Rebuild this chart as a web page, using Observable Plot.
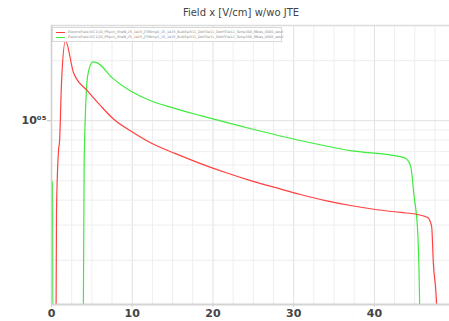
<!DOCTYPE html>
<html><head><meta charset="utf-8">
<script src="https://cdn.jsdelivr.net/npm/d3@7"></script>
<script src="https://cdn.jsdelivr.net/npm/@observablehq/plot@0.6"></script>
<style>
body{margin:0;background:#fff;font-family:"DejaVu Sans",sans-serif;}
#wrap{position:relative;width:449px;height:321px;overflow:hidden;}
#title{position:absolute;left:0;top:7px;width:482px;text-align:center;font-size:10px;color:#444;font-weight:500;}
#legend{position:absolute;left:52px;top:27px;width:228px;height:13px;border:1px solid #d8d8d8;background:#fff;font-size:3.4px;color:#888;}
.row{position:absolute;left:3px;height:4px;white-space:nowrap;line-height:4px;}
.sw{display:inline-block;width:9px;height:0;border-top:1.2px solid;vertical-align:middle;margin-right:3px;}
</style></head><body>
<div id="wrap"><div id="chart"></div>
<div id="title">Field x [V/cm] w/wo JTE</div>
<div id="legend"></div></div>
<script>
const seriesNames = [
  "ElectricField-X(C1)(D_Pflpin)_ShaN_25_1a15_JTENmp0_15_1a15_BulkEpiS11_DotTile11_DotHTile12_Temp300_RBias_0000_des3",
  "ElectricField-X(C1)(D_Pflpin)_ShaN_25_1a15_JTENmp1_15_1a15_BulkEpiS11_DotTile11_DotHTile12_Temp300_RBias_0000_des3"
];
const seriesColors = ["#ff4040", "#3dec3d"];
const redX = [0.55, 0.62, 0.87, 1.0, 1.24, 1.73, 2.73, 4.46, 6.07, 7.68, 10.16, 12.27, 15.37, 18.46, 21.56, 24.66, 27.76, 30.86, 33.95, 37.05, 40.15, 43.25, 45.35, 46.6, 47.09, 47.3, 47.7, 47.8];
const redY = [8000, 3.5e4, 7.1e4, 7.9e4, 1.55e5, 2.51e5, 1.74e5, 1.41e5, 1.19e5, 1.02e5, 8.71e4, 7.76e4, 6.84e4, 6.10e4, 5.50e4, 5.01e4, 4.62e4, 4.27e4, 3.98e4, 3.76e4, 3.59e4, 3.47e4, 3.39e4, 3.27e4, 2.95e4, 1.93e4, 1.2e4, 8000];
const greenX = [0, 0.12, 0.18, 3.9, 3.95, 4.05, 4.5, 5.12, 5.66, 7.52, 9.79, 12.27, 14.75, 18.5, 24.7, 30.9, 37.05, 43.2, 43.9, 44.5, 44.9, 45.35, 45.6, 45.65];
const greenY = [5.0e4, 4.9e4, 8000, 8000, 1.2e4, 6.5e4, 1.7e5, 1.97e5, 1.95e5, 1.64e5, 1.41e5, 1.26e5, 1.17e5, 1.06e5, 9.12e4, 7.94e4, 7.08e4, 6.61e4, 6.46e4, 5.89e4, 4.22e4, 2.82e4, 1.2e4, 8000];
const xTicks = [0, 10, 20, 30, 40];
const yTicks = [1e5];
const yTickLabels = ["10⁰⁵"];

const red = redX.map((x, i) => ({x, y: redY[i]}));
const green = greenX.map((x, i) => ({x, y: greenY[i]}));
const yDomain = [1.2e4, 3.0e5];
const xDomain = [0, 49.3];
const xGrid = d3.range(2.5, 49.3, 2.5);
const yGrid = [2e4,3e4,4e4,5e4,6e4,7e4,8e4,9e4,1e5,2e5];
const yLabelOf = d => yTickLabels[yTicks.indexOf(d)] ?? "";

const chart = Plot.plot({
  width: 449, height: 321,
  marginTop: 25, marginBottom: 17, marginLeft: 51, marginRight: 0,
  style: {fontFamily: "DejaVu Sans, sans-serif", background: "#fff"},
  x: {domain: xDomain, label: null},
  y: {type: "log", domain: yDomain, label: null},
  marks: [
    Plot.ruleX(xGrid, {stroke: d => d % 10 === 0 ? "#e0e0e0" : "#eeeeee", strokeWidth: 1}),
    Plot.ruleY(yGrid, {stroke: d => d === 1e5 ? "#e0e0e0" : "#eeeeee", strokeWidth: 1}),
    Plot.ruleY([yDomain[1]], {stroke: "#dcdcdc", strokeWidth: 1.5}),
    Plot.axisX({ticks: xTicks, label: null, tickSize: 3, tickPadding: 2, fontSize: 11, fontWeight: 600, color: "#444", stroke: "#ccc"}),
    Plot.axisY({ticks: yTicks, label: null, tickFormat: () => "", tickSize: 4, stroke: "#bbb"}),
    Plot.text(yTicks, {y: d => d, frameAnchor: "left", dx: -5, textAnchor: "end", text: yLabelOf, fontSize: 11, fontWeight: 600, fill: "#444"}),
    Plot.line(green, {x: "x", y: "y", stroke: seriesColors[1], strokeWidth: 1.2, curve: "monotone-x", clip: true}),
    Plot.line(red, {x: "x", y: "y", stroke: seriesColors[0], strokeWidth: 1.2, curve: "monotone-x", clip: true}),
    Plot.ruleY([yDomain[0]], {stroke: "#d4d4d4", strokeWidth: 2}),
    Plot.ruleX([0], {stroke: "#d0d0d0", strokeWidth: 1.5})
  ]
});
document.getElementById("chart").appendChild(chart);
const lg = document.getElementById("legend");
seriesNames.forEach((n, i) => {
  const r = document.createElement("div");
  r.className = "row";
  r.style.top = (2 + i * 5) + "px";
  r.innerHTML = `<span class="sw" style="border-color:${seriesColors[i]}"></span>`;
  r.appendChild(document.createTextNode(n));
  lg.appendChild(r);
});
</script></body></html>
